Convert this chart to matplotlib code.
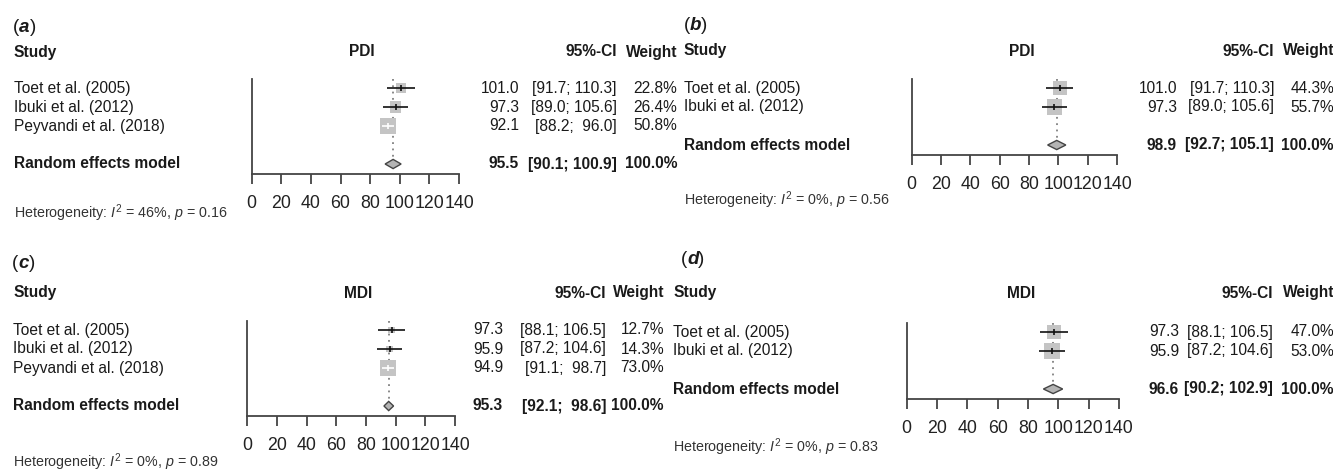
import numpy as np
import matplotlib
matplotlib.use("Agg")
import matplotlib.pyplot as plt
from matplotlib.transforms import blended_transform_factory

plt.rcParams['font.family'] = ['Liberation Sans', 'DejaVu Sans']
plt.rcParams['mathtext.fontset'] = 'custom'
plt.rcParams['mathtext.rm'] = 'Liberation Sans'
plt.rcParams['mathtext.it'] = 'Liberation Sans:italic'
plt.rcParams['mathtext.bf'] = 'Liberation Sans:bold'

# ---------------- data ----------------
a_outcome = "PDI"
a_studies = ["Toet et al. (2005)", "Ibuki et al. (2012)", "Peyvandi et al. (2018)"]
a_est = [101.0, 97.3, 92.1]
a_lo = [91.7, 89.0, 88.2]
a_hi = [110.3, 105.6, 96.0]
a_w = [22.8, 26.4, 50.8]
a_sum = [95.5, 90.1, 100.9]
a_i2, a_p = 46, 0.16

b_outcome = "PDI"
b_studies = ["Toet et al. (2005)", "Ibuki et al. (2012)"]
b_est = [101.0, 97.3]
b_lo = [91.7, 89.0]
b_hi = [110.3, 105.6]
b_w = [44.3, 55.7]
b_sum = [98.9, 92.7, 105.1]
b_i2, b_p = 0, 0.56

c_outcome = "MDI"
c_studies = ["Toet et al. (2005)", "Ibuki et al. (2012)", "Peyvandi et al. (2018)"]
c_est = [97.3, 95.9, 94.9]
c_lo = [88.1, 87.2, 91.1]
c_hi = [106.5, 104.6, 98.7]
c_w = [12.7, 14.3, 73.0]
c_sum = [95.3, 92.1, 98.6]
c_i2, c_p = 0, 0.89

d_outcome = "MDI"
d_studies = ["Toet et al. (2005)", "Ibuki et al. (2012)"]
d_est = [97.3, 95.9]
d_lo = [88.1, 87.2]
d_hi = [106.5, 104.6]
d_w = [47.0, 53.0]
d_sum = [96.6, 90.2, 102.9]
d_i2, d_p = 0, 0.83

summary_label = "Random effects model"
xticks = [0, 20, 40, 60, 80, 100, 120, 140]
panel_letters = ["a", "b", "c", "d"]

panels = [
    dict(outcome=a_outcome, studies=a_studies, est=a_est, lo=a_lo, hi=a_hi, w=a_w, summ=a_sum, i2=a_i2, p=a_p),
    dict(outcome=b_outcome, studies=b_studies, est=b_est, lo=b_lo, hi=b_hi, w=b_w, summ=b_sum, i2=b_i2, p=b_p),
    dict(outcome=c_outcome, studies=c_studies, est=c_est, lo=c_lo, hi=c_hi, w=c_w, summ=c_sum, i2=c_i2, p=c_p),
    dict(outcome=d_outcome, studies=d_studies, est=d_est, lo=d_lo, hi=d_hi, w=d_w, summ=d_sum, i2=d_i2, p=d_p),
]

# ---------------- layout (pixels) ----------------
W, H = 1333, 471
ROW = 19.0
layouts = [
    dict(ax_x=(251.7, 459.0), row1=88, lab_x=14, letter=(13, 27), head_y=52, outc_x=362,
         est_r=519, ci_r=617, w_r=677, het_y=213),
    dict(ax_x=(911.7, 1117.0), row1=88, lab_x=684, letter=(684, 25), head_y=51, outc_x=1022,
         est_r=1177, ci_r=1274, w_r=1334, het_y=200),
    dict(ax_x=(247.3, 455.0), row1=330, lab_x=13, letter=(12, 264), head_y=293, outc_x=358,
         est_r=503, ci_r=606, w_r=664, het_y=462),
    dict(ax_x=(906.7, 1118.9), row1=332, lab_x=673, letter=(681, 259), head_y=293, outc_x=1021,
         est_r=1179, ci_r=1273, w_r=1334, het_y=447),
]

TXT = '#1a1a1a'
FS = 11.2        # row text (pt)
FS_TICK = 12.8
FS_HET = 10.3
FS_LET = 13.5

fig = plt.figure(figsize=(W / 100, H / 100), dpi=100)
fig.patch.set_facecolor('white')


def fy(y):
    return 1 - y / H


for P, L, letter in zip(panels, layouts, panel_letters):
    n = len(P['studies'])
    sum_row = n + 2
    x0, x1 = L['ax_x']
    ytop = L['row1'] - ROW / 2
    ybot = L['row1'] + (sum_row - 1) * ROW + ROW / 2
    ax = fig.add_axes([x0 / W, fy(ybot), (x1 - x0) / W, (ybot - ytop) / H])
    ax.set_xlim(0, 140)
    ax.set_ylim(sum_row + 0.5, 0.5)
    ax.set_facecolor('none')
    for s in ['top', 'right']:
        ax.spines[s].set_visible(False)
    for s in ['left', 'bottom']:
        ax.spines[s].set_color('#444444')
        ax.spines[s].set_linewidth(1.3)
    ax.set_yticks([])
    ax.set_xticks(xticks)
    ax.tick_params(axis='x', direction='out', length=7.2, width=1.3, color='#444444',
                   labelsize=FS_TICK, labelcolor='#222222', pad=8)

    est = np.array(P['est']); lo = np.array(P['lo']); hi = np.array(P['hi']); w = np.array(P['w'])
    rows = np.arange(1, n + 1)
    side_px = 15.5 * np.sqrt(w / w.max())
    ax.scatter(est, rows, s=(side_px * 0.72) ** 2, marker='s', color='#c4c4c4',
               linewidths=0, zorder=2)
    ppu = (x1 - x0) / 140.0
    for i in range(n):
        inside = (hi[i] - lo[i]) * ppu < side_px[i]
        col = 'white' if inside else '#111111'
        ax.plot([lo[i], hi[i]], [rows[i], rows[i]], color=col, lw=1.2, zorder=3,
                solid_capstyle='butt')
        ax.plot([est[i]], [rows[i]], marker='|', ms=4.5, mew=1.2, color=col, zorder=4)

    se, slo, shi = P['summ']
    h = 4.6 / ROW
    ax.plot([se, se], [0.5, sum_row - h], ls=(0, (1, 2.5)), color='#808080', lw=1.3, zorder=1)
    ax.fill([slo, se, shi, se], [sum_row, sum_row - h, sum_row, sum_row + h],
            facecolor='#b4b4b4', edgecolor='#444444', lw=1.0, zorder=3)

    tr = blended_transform_factory(fig.transFigure, ax.transData)
    for i in range(n):
        r = rows[i]
        ax.text(L['lab_x'] / W, r, P['studies'][i], transform=tr, ha='left', va='center',
                fontsize=FS, color=TXT)
        ax.text(L['est_r'] / W, r, f"{est[i]:.1f}", transform=tr, ha='right', va='center',
                fontsize=FS, color=TXT)
        ax.text(L['ci_r'] / W, r, f"[{lo[i]:4.1f}; {hi[i]:5.1f}]", transform=tr, ha='right',
                va='center', fontsize=FS, color=TXT)
        ax.text(L['w_r'] / W, r, f"{w[i]:.1f}%", transform=tr, ha='right', va='center',
                fontsize=FS, color=TXT)
    ax.text(L['lab_x'] / W, sum_row, summary_label, transform=tr, ha='left', va='center',
            fontsize=FS, color=TXT, weight='bold')
    ax.text(L['est_r'] / W, sum_row, f"{se:.1f}", transform=tr, ha='right', va='center',
            fontsize=FS, color=TXT, weight='bold')
    ax.text(L['ci_r'] / W, sum_row, f"[{slo:4.1f}; {shi:5.1f}]", transform=tr, ha='right',
            va='center', fontsize=FS, color=TXT, weight='bold')
    ax.text(L['w_r'] / W, sum_row, f"{100.0:.1f}%", transform=tr, ha='right', va='center',
            fontsize=FS, color=TXT, weight='bold')

    # headers
    hy = fy(L['head_y'])
    fig.text(L['lab_x'] / W, hy, "Study", ha='left', va='center', fontsize=FS, weight='bold', color=TXT)
    fig.text(L['outc_x'] / W, hy, P['outcome'], ha='center', va='center', fontsize=FS, weight='bold', color=TXT)
    fig.text(L['ci_r'] / W, hy, "95%-CI", ha='right', va='center', fontsize=FS, weight='bold', color=TXT)
    fig.text(L['w_r'] / W, hy, "Weight", ha='right', va='center', fontsize=FS, weight='bold', color=TXT)

    # panel letter "(x)" with bold italic letter
    lx, ly = L['letter']
    fig.text(lx / W, fy(ly), "(", ha='left', va='center', fontsize=FS_LET, color=TXT)
    fig.text((lx + 6) / W, fy(ly), letter, ha='left', va='center', fontsize=FS_LET,
             color=TXT, weight='bold', style='italic')
    fig.text((lx + 17) / W, fy(ly), ")", ha='left', va='center', fontsize=FS_LET, color=TXT)

    # heterogeneity
    fig.text(L['lab_x'] / W, fy(L['het_y']),
             f"Heterogeneity: $I^2$ = {P['i2']}%, $p$ = {P['p']:.2f}",
             ha='left', va='center', fontsize=FS_HET, color='#333333')

fig.savefig("out.png", dpi=100, facecolor='white')
